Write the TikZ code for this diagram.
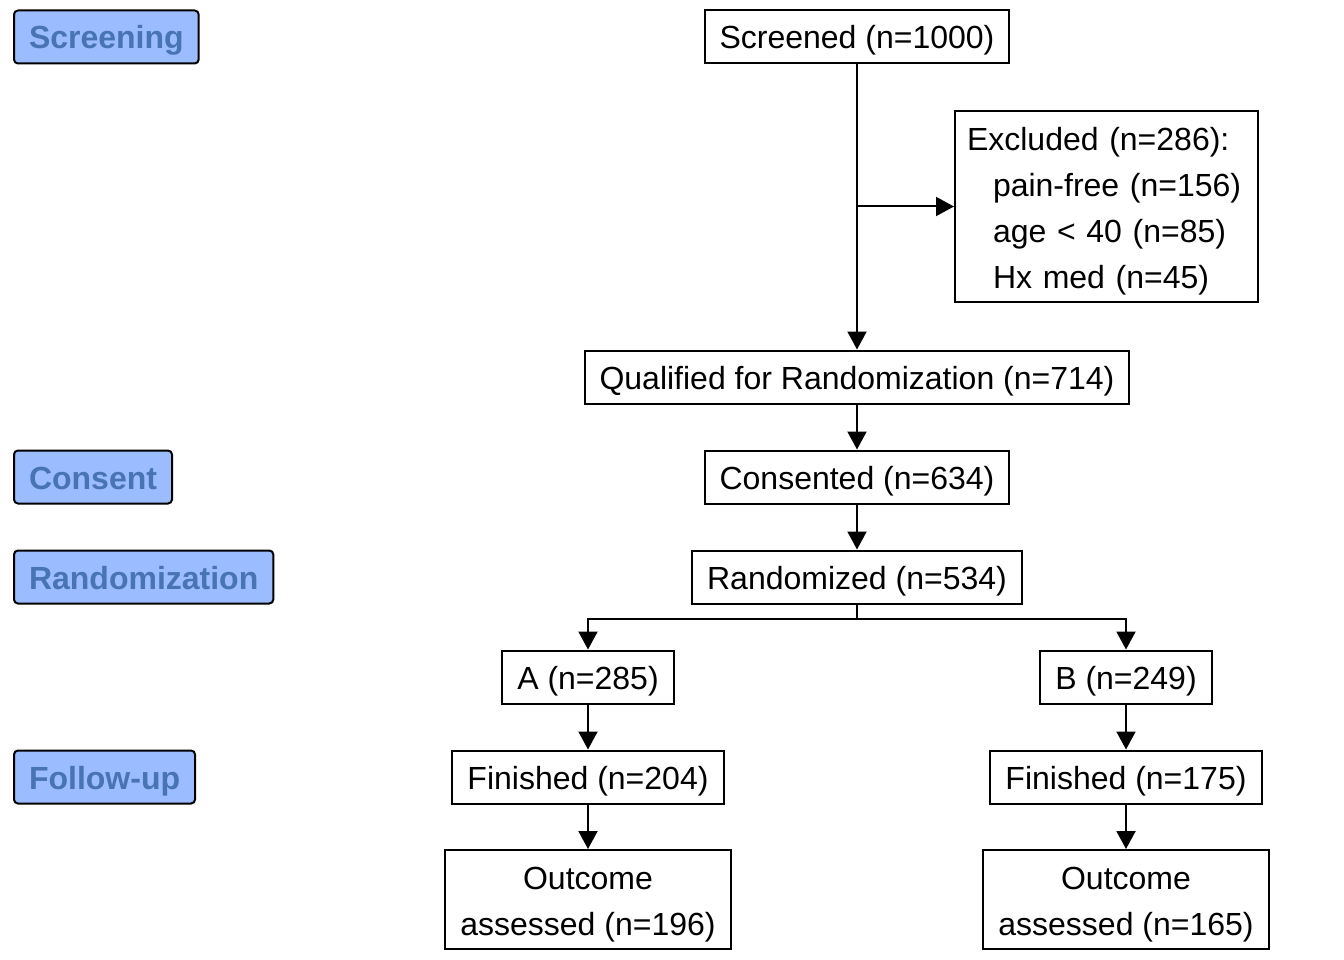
\documentclass[tikz,border=0pt]{standalone}
\usepackage{fontspec}
\setmainfont{Liberation Sans}
\usetikzlibrary{arrows.meta}
\definecolor{stagefill}{HTML}{9BBCFF}
\definecolor{stagetext}{HTML}{4874B4}
\begin{document}
\begin{tikzpicture}[x=1pt, y=-1pt, line width=2pt, >={Triangle[length=18pt, width=19pt]},
        every node/.style = {font=\fontsize{32}{46}\selectfont,
                             execute at begin node={\rule[-7pt]{0pt}{38pt}}},
        box/.style = {draw, minimum height=53pt, inner xsep=15pt, inner ysep=0pt},
        stage/.style = {draw, rounded corners=4pt, fill=stagefill, text=stagetext,
                        font=\fontsize{32}{46}\selectfont\bfseries, anchor=west,
                        minimum height=53pt, inner xsep=15pt, inner ysep=0pt}]
    \useasboundingbox (0,0) rectangle (1344,960);
    % stages
    \node[stage] (screening) at (13,37) {Screening};
    \node[stage] (consent) at (13,477) {Consent};
    \node[stage] (randomization) at (13,577) {Randomization};
    \node[stage] (followup) at (13,777) {Follow-up};
    % flow
    \node[box, text width=279pt, minimum height=191pt, inner xsep=12pt, align=left]
        (excluded) at (1106.5,206.5) {\rule{0pt}{33pt}Excluded (n=286):\\
        \hspace{26pt}pain-free (n=156)\\
        \hspace{26pt}age < 40 (n=85)\\
        \hspace{26pt}Hx med (n=45)};
    \node[box] (screened) at (857,37) {Screened (n=1000)};
    \node[box] (qualified) at (857,377) {Qualified for Randomization (n=714)};
    \node[box] (consented) at (857,477) {Consented (n=634)};
    \node[box] (randomized) at (857,577) {Randomized (n=534)};
    \node[box] (armA) at (588,677) {A (n=285)};
    \node[box] (armB) at (1126,677) {B (n=249)};
    \node[box] (finA) at (588,777) {Finished (n=204)};
    \node[box] (finB) at (1126,777) {Finished (n=175)};
    \node[box, minimum height=99pt, align=center] (outA) at (588,899.5) {\rule{0pt}{33pt}Outcome\\ assessed (n=196)};
    \node[box, minimum height=99pt, align=center] (outB) at (1126,899.5) {\rule{0pt}{33pt}Outcome\\ assessed (n=165)};
    % connectors
    \draw[->] (screened) -- (qualified);
    \draw[->] (screened.south |- excluded.west) -- (excluded.west);
    \draw[->] (qualified) -- (consented);
    \draw[->] (consented) -- (randomized);
    \draw[->] (randomized.south) -- ++(0,14) -| (armA.north);
    \draw[->] (randomized.south) -- ++(0,14) -| (armB.north);
    \draw[->] (armA) -- (finA);
    \draw[->] (armB) -- (finB);
    \draw[->] (finA) -- (outA);
    \draw[->] (finB) -- (outB);
\end{tikzpicture}
\end{document}
